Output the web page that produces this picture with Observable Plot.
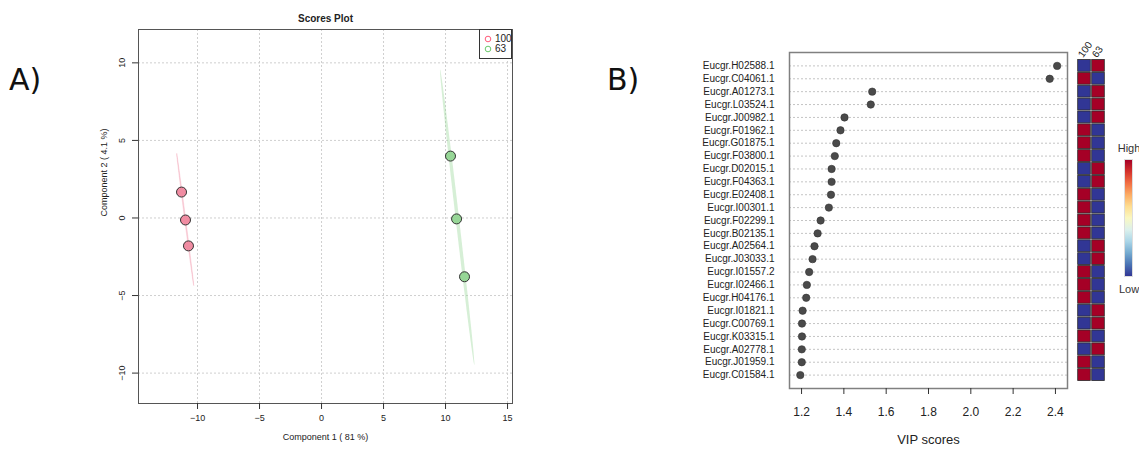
<!DOCTYPE html>
<html><head><meta charset="utf-8">
<script src="https://cdn.jsdelivr.net/npm/d3@7"></script>
<script src="https://cdn.jsdelivr.net/npm/@observablehq/plot@0.6"></script>
<style>
body{margin:0;background:#fff;}
#root{position:relative;width:1139px;height:449px;overflow:hidden;background:#fff;font-family:"Liberation Sans",Arial,sans-serif;color:#222;}
.abs{position:absolute;}
</style></head><body><div id="root"></div>
<script>
// ---------- Scores plot (A) ----------
const scoreGroups = ["100", "63"];
const group100X = [-11.29, -10.97, -10.73];
const group100Y = [1.67, -0.13, -1.80];
const group63X = [10.40, 10.89, 11.53];
const group63Y = [3.99, -0.06, -3.79];
const scoreTicksX = [-10, -5, 0, 5, 10, 15];
const scoreTicksY = [-10, -5, 0, 5, 10];
const scoreTitle = "Scores Plot";
const scoreXLabel = "Component 1 ( 81 %)";
const scoreYLabel = "Component 2 ( 4.1 %)";

// ---------- VIP plot (B) ----------
const genes = ["Eucgr.H02588.1","Eucgr.C04061.1","Eucgr.A01273.1","Eucgr.L03524.1","Eucgr.J00982.1","Eucgr.F01962.1","Eucgr.G01875.1","Eucgr.F03800.1","Eucgr.D02015.1","Eucgr.F04363.1","Eucgr.E02408.1","Eucgr.I00301.1","Eucgr.F02299.1","Eucgr.B02135.1","Eucgr.A02564.1","Eucgr.J03033.1","Eucgr.I01557.2","Eucgr.I02466.1","Eucgr.H04176.1","Eucgr.I01821.1","Eucgr.C00769.1","Eucgr.K03315.1","Eucgr.A02778.1","Eucgr.J01959.1","Eucgr.C01584.1"];
const vipScores = [2.408,2.373,1.534,1.527,1.403,1.384,1.364,1.357,1.342,1.342,1.339,1.329,1.290,1.276,1.261,1.252,1.236,1.225,1.222,1.205,1.202,1.202,1.201,1.201,1.194];
// 1 = group "100" high (and "63" low), 0 = group "100" low (and "63" high)
const high100 = [0,1,0,0,0,1,1,1,0,0,1,1,1,1,0,0,1,1,1,0,0,1,0,1,1];
const heatGroups = ["100", "63"];
const vipTicks = [1.2, 1.4, 1.6, 1.8, 2.0, 2.2, 2.4];
const vipLabel = "VIP scores";
const legendLabels = ["High", "Low"];
const panelLabels = ["A)", "B)"];

const root = document.getElementById("root");
function place(el, left, top) { el.classList.add("abs"); el.style.left = left + "px"; el.style.top = top + "px"; root.appendChild(el); return el; }

// 95% confidence ellipse from the group points
function ellipse(xs, ys, group) {
  const n = xs.length, mx = d3.mean(xs), my = d3.mean(ys);
  let sxx = 0, syy = 0, sxy = 0;
  for (let i = 0; i < n; i++) { const dx = xs[i]-mx, dy = ys[i]-my; sxx += dx*dx; syy += dy*dy; sxy += dx*dy; }
  sxx /= n-1; syy /= n-1; sxy /= n-1;
  const tr = sxx + syy, det = sxx*syy - sxy*sxy, disc = Math.sqrt(Math.max(tr*tr/4 - det, 0));
  const l1 = tr/2 + disc, l2 = Math.max(tr/2 - disc, 0);
  let vx = l1 - syy, vy = sxy; const nn = Math.hypot(vx, vy) || 1; vx /= nn; vy /= nn;
  const k = Math.sqrt(5.991), a = Math.sqrt(l1)*k, b = Math.sqrt(l2)*k;
  return d3.range(0, 121).map(i => { const t = i/120*2*Math.PI;
    return {group, x: mx + a*Math.cos(t)*vx - b*Math.sin(t)*vy, y: my + a*Math.cos(t)*vy + b*Math.sin(t)*vx}; });
}
const pts = [
  ...group100X.map((x,i) => ({group: "100", x, y: group100Y[i]})),
  ...group63X.map((x,i) => ({group: "63", x, y: group63Y[i]}))
];
const ell100 = ellipse(group100X, group100Y, "100");
const ell63 = ellipse(group63X, group63Y, "63");

const leftPlot = Plot.plot({
  width: 430, height: 449, marginLeft: 48, marginRight: 8, marginTop: 29, marginBottom: 46,
  style: {fontFamily: "'Liberation Sans', Arial, sans-serif", fontSize: "9px", color: "#222", background: "transparent", overflow: "visible"},
  x: {domain: [-14.76, 15.4]},
  y: {domain: [-11.96, 12.15]},
  marks: [
    Plot.gridX(scoreTicksX, {stroke: "#cfcfcf", strokeOpacity: 1, strokeDasharray: "2,2"}),
    Plot.gridY(scoreTicksY, {stroke: "#cfcfcf", strokeOpacity: 1, strokeDasharray: "2,2"}),
    Plot.line(ell100, {x: "x", y: "y", fill: "#f3a0b4", fillOpacity: 0.45, stroke: "#f3a0b4", strokeOpacity: 0.4, strokeWidth: 0.8}),
    Plot.line(ell63, {x: "x", y: "y", fill: "#98d898", fillOpacity: 0.4, stroke: "none"}),
    Plot.dot(pts, {x: "x", y: "y", r: 5, fill: d => d.group === "100" ? "#f08ca2" : "#96d696", stroke: "#333", strokeWidth: 1}),
    Plot.frame({stroke: "#555", strokeWidth: 1}),
    Plot.axisX(scoreTicksX, {tickSize: 6, tickPadding: 5, fontSize: 9, label: null, stroke: "#333"}),
    Plot.axisY(scoreTicksY, {tickSize: 6, tickPadding: 8, tickRotate: -90, textAnchor: "middle", lineAnchor: "bottom", fontSize: 9, label: null, stroke: "#333"}),
    Plot.text([scoreTitle], {frameAnchor: "top", dy: -15, fontWeight: "bold", fontSize: 10, fill: "#222"}),
    Plot.text([scoreXLabel], {frameAnchor: "bottom", dy: 36, fontSize: 9, fill: "#222"}),
    Plot.text([scoreYLabel], {frameAnchor: "left", dx: -34, rotate: -90, fontSize: 9, fill: "#222"})
  ]
});
place(leftPlot, 90, 0);

// legend box for scores plot
const lg = document.createElement("div");
lg.style.cssText = "width:33px;height:30px;border:1px solid #333;background:#fff;font-size:10px;line-height:10px;box-sizing:border-box;";
lg.innerHTML = scoreGroups.map((g,i) => `<div style="position:absolute;left:4px;top:${4+i*10}px;white-space:nowrap;"><svg width="8" height="8" style="vertical-align:middle"><circle cx="4" cy="4" r="2.8" fill="none" stroke="${i===0?'#ff5c7a':'#6cc96c'}" stroke-width="1"/></svg><span style="margin-left:3px;vertical-align:middle;">${g}</span></div>`).join("");
place(lg, 479, 29);

// ---------- VIP dot plot ----------
const vipData = genes.map((g,i) => ({gene: g, vip: vipScores[i]}));
const rightPlot = Plot.plot({
  width: 390, height: 449, marginLeft: 109, marginRight: 3, marginTop: 52, marginBottom: 61,
  style: {fontFamily: "'Liberation Sans', Arial, sans-serif", fontSize: "10px", color: "#222", background: "transparent", overflow: "visible"},
  x: {domain: [1.143, 2.457]},
  y: {type: "point", domain: genes, padding: 1.04, round: false},
  marks: [
    Plot.ruleY(genes, {stroke: "#c4c4c4", strokeDasharray: "2,2"}),
    Plot.dot(vipData, {x: "vip", y: "gene", r: 3.7, fill: "#4a4a4a", stroke: "#333", strokeWidth: 0.6}),
    Plot.frame({stroke: "#808080", strokeWidth: 1.5}),
    Plot.axisX(vipTicks, {tickSize: 6, tickPadding: 13, fontSize: 12, tickFormat: d3.format(".1f"), label: null, stroke: "#333"}),
    Plot.axisY({tickSize: 0, tickPadding: 15, fontSize: 10, label: null}),
    Plot.text([vipLabel], {frameAnchor: "bottom", dy: 55, fontSize: 13, fill: "#222"})
  ]
});
place(rightPlot, 680, 0);

// ---------- heatmap ----------
const heatData = [];
genes.forEach((g,i) => { heatData.push({gene: g, group: "100", v: high100[i]}); heatData.push({gene: g, group: "63", v: 1 - high100[i]}); });
const heat = Plot.plot({
  width: 60, height: 449, marginLeft: 7, marginRight: 25, marginTop: 52, marginBottom: 61,
  style: {fontFamily: "'Liberation Sans', Arial, sans-serif", fontSize: "10px", color: "#222", background: "transparent", overflow: "visible"},
  x: {type: "band", domain: heatGroups, paddingInner: 0.1, paddingOuter: 0.05, round: false},
  y: {type: "band", domain: genes, paddingInner: 0.08, paddingOuter: 0.58, round: false},
  color: {type: "linear", domain: [0, 1], scheme: "RdYlBu", reverse: true},
  marks: [
    Plot.cell(heatData, {x: "group", y: "gene", fill: "v", stroke: "#2a2a2a", strokeWidth: 0.8}),
    Plot.axisX({anchor: "top", tickSize: 0, tickPadding: -4, dx: -4, tickRotate: -55, textAnchor: "start", fontSize: 10, label: null}),
    Plot.axisY({tickSize: 0, ticks: [], label: null})
  ]
});
place(heat, 1070, 0);

// color legend
const bar = document.createElement("div");
const stops = d3.range(0, 11).map(i => `${d3.interpolateRdYlBu(i/10)} ${i*10}%`).join(",");
bar.style.cssText = `width:9px;height:118px;background:linear-gradient(to bottom, ${stops});border:1px solid #ddd;box-sizing:border-box;`;
place(bar, 1124, 159);
legendLabels.forEach((t,i) => {
  const el = document.createElement("div");
  el.textContent = t;
  el.style.cssText = "font-size:11px;width:40px;text-align:center;color:#333;";
  place(el, 1109, i === 0 ? 142 : 283);
});

// panel labels
panelLabels.forEach((t,i) => {
  const el = document.createElement("div");
  el.textContent = t;
  el.style.cssText = "font-family:'DejaVu Sans',sans-serif;font-size:30px;color:#111;";
  place(el, i === 0 ? 9 : 607, 62);
});
</script></body></html>
